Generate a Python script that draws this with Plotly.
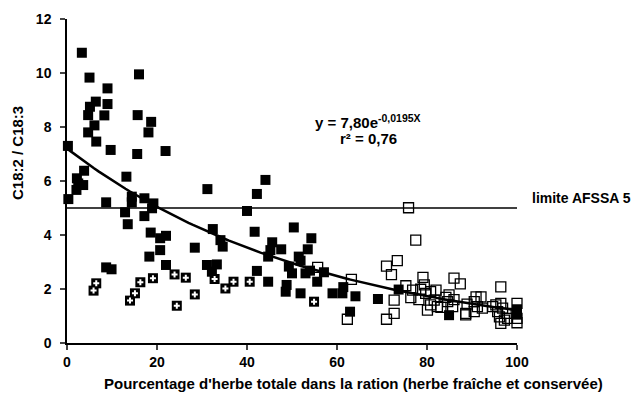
import numpy as np
import plotly.graph_objects as go

# Filled black squares
filled_x = [3.3, 5.0, 16.0, 9.0, 6.4, 9.0, 5.1, 4.7, 8.3, 15.7, 18.7, 6.1, 18.1, 4.7, 6.5, 0.2, 9.7, 15.6, 21.9,
            3.8, 13.2, 2.2, 2.5, 3.6, 2.1, 0.3, 8.7, 14.4, 14.4, 17.2, 19.2, 18.9, 12.9, 17.2, 13.5, 18.6, 20.7,
            22.0, 20.7, 18.3, 28.4, 22.0, 8.7, 9.9,
            31.2, 44.1, 42.2, 40.0, 32.4, 34.1, 34.6, 41.7, 50.4, 54.3, 45.6, 45.2, 47.6, 53.5, 44.7, 51.5, 51.9,
            31.1, 33.3, 32.2, 49.3, 50.0, 53.0, 54.0, 57.1, 55.6, 42.2, 44.7, 48.8, 48.6, 51.9,
            59.0, 61.2, 61.4, 64.1, 69.1, 73.7, 62.9, 84.9, 100.0, 100.0]
filled_y = [10.75, 9.83, 9.95, 9.43, 8.94, 8.85, 8.75, 8.44, 8.43, 8.44, 8.19, 8.06, 7.80, 7.80, 7.46, 7.30, 7.15, 7.0, 7.11,
            6.38, 6.16, 6.10, 5.91, 5.85, 5.67, 5.33, 5.21, 5.42, 5.21, 5.36, 5.17, 4.99, 4.84, 4.70, 4.40, 4.09, 3.88,
            3.97, 3.44, 3.20, 3.53, 2.89, 2.80, 2.73,
            5.70, 6.04, 5.52, 4.89, 4.22, 3.81, 3.57, 4.12, 4.28, 3.88, 3.73, 3.44, 3.47, 3.47, 3.20, 3.20, 3.05,
            2.89, 2.91, 2.64, 2.83, 2.58, 2.58, 2.68, 2.62, 2.27, 2.67, 2.27, 2.15, 1.90, 1.84,
            1.84, 1.84, 2.07, 1.73, 1.63, 1.98, 1.16, 1.03, 1.25, 1.05]

# Black squares with white cross
cross_x = [6.5, 5.9, 16.3, 19.1, 23.9, 26.4, 15.1, 14.0, 28.4, 24.4, 32.8, 37.0, 35.2, 40.6, 54.9]
cross_y = [2.21, 1.94, 2.25, 2.40, 2.54, 2.42, 1.84, 1.57, 1.80, 1.38, 2.37, 2.27, 2.02, 2.27, 1.53]

# Open squares
open_x = [55.7, 75.9, 77.5, 73.4, 71.0, 72.1, 63.2, 79.1, 86.0, 87.4, 96.4, 75.3, 76.8, 78.6, 79.4, 79.7, 80.8,
          82.0, 81.6, 84.9, 84.6, 85.7, 80.1, 80.8, 82.3, 88.6, 90.9, 90.5, 92.0, 91.2, 90.5, 92.3, 94.6, 95.3,
          96.4, 96.8, 95.7, 96.1, 97.6, 97.9, 97.2, 100.0, 100.0, 100.0, 72.7, 76.4, 78.2, 84.2, 86.0, 88.9,
          83.1, 88.6, 72.7, 71.0, 62.3, 96.4]
open_y = [2.80, 5.01, 3.81, 3.05, 2.85, 2.53, 2.36, 2.43, 2.40, 2.19, 2.08, 2.12, 1.96, 1.99, 2.15, 1.84, 1.90,
          1.96, 1.59, 1.78, 1.53, 1.35, 1.22, 1.41, 1.35, 1.10, 1.71, 1.53, 1.71, 1.35, 1.16, 1.29, 1.35, 1.41,
          1.47, 1.29, 1.16, 0.97, 1.10, 0.91, 0.85, 1.47, 0.91, 0.75, 1.59, 1.68, 1.61, 1.69, 1.61, 1.44,
          1.32, 1.04, 1.10, 0.88, 0.88, 0.73]

# Trend curve parameters (as drawn) and AFSSA limit
trend_a = 7.2
trend_b = 0.0178
limit_value = 5
x_ticks = [0, 20, 40, 60, 80, 100]
y_ticks = [0, 2, 4, 6, 8, 10, 12]

FONT = "Liberation Sans, Arial, sans-serif"

fig = go.Figure()
fig.add_trace(go.Scatter(x=filled_x, y=filled_y, mode="markers", cliponaxis=False,
                         marker=dict(symbol="square", size=10, color="black", line=dict(width=0))))
fig.add_trace(go.Scatter(x=open_x, y=open_y, mode="markers", cliponaxis=False,
                         marker=dict(symbol="square-open", size=10, color="black", line=dict(width=1.3))))
fig.add_trace(go.Scatter(x=cross_x, y=cross_y, mode="markers", cliponaxis=False,
                         marker=dict(symbol="square", size=10, color="black", line=dict(width=0))))
fig.add_trace(go.Scatter(x=cross_x, y=cross_y, mode="markers", cliponaxis=False,
                         marker=dict(symbol="cross", size=5, color="white", line=dict(width=0))))

tx = np.linspace(0, 100, 101)
fig.add_trace(go.Scatter(x=tx, y=trend_a * np.exp(-trend_b * tx), mode="lines", cliponaxis=False,
                         line=dict(color="black", width=2.5)))
fig.add_trace(go.Scatter(x=[0, 100], y=[limit_value, limit_value], mode="lines", cliponaxis=False,
                         line=dict(color="black", width=1.5)))

OFF = 8  # page body margin
W, H = 641, 400
L, T = 67 - OFF, 19 - OFF
pw, ph = 450, 324
R = W - L - pw
B = H - T - ph

def px(xp):
    return (xp - OFF - L) / pw

def py(yp):
    return (T + ph - (yp - OFF)) / ph

fig.update_layout(
    width=W, height=H, showlegend=False,
    paper_bgcolor="white", plot_bgcolor="white",
    margin=dict(l=L, r=R, t=T, b=B, autoexpand=False),
    font=dict(family=FONT, size=14, color="black"),
    xaxis=dict(range=[0, 100], tickvals=x_ticks, ticks="outside", ticklen=5, tickwidth=1.5,
               showline=True, linecolor="black", linewidth=1.5, showgrid=False, zeroline=False,
               tickfont=dict(family=FONT, size=14, color="black", weight="bold")),
    yaxis=dict(range=[0, 12], tickvals=y_ticks, ticks="outside", ticklen=5, tickwidth=1.5,
               showline=True, linecolor="black", linewidth=1.5, showgrid=False, zeroline=False,
               ticklabelstandoff=6,
               tickfont=dict(family=FONT, size=14, color="black", weight="bold")),
    annotations=[
        dict(text="C18:2 / C18:3", textangle=-90, xref="paper", yref="paper", x=px(18), y=py(153),
             showarrow=False, xanchor="center", yanchor="middle",
             font=dict(family=FONT, size=15, weight="bold")),
        dict(text="Pourcentage d'herbe totale dans la ration (herbe fraîche et conservée)",
             xref="paper", yref="paper", x=px(353), y=py(383), showarrow=False,
             xanchor="center", yanchor="middle", font=dict(family=FONT, size=15, weight="bold")),
        dict(text="limite AFSSA 5", xref="paper", yref="paper", x=px(530), y=py(198), showarrow=False,
             xanchor="left", yanchor="middle", font=dict(family=FONT, size=14, weight="bold")),
        dict(text="y = 7,80e<sup>-0,0195X</sup>", xref="paper", yref="paper", x=px(368), y=py(122),
             showarrow=False, xanchor="center", yanchor="middle", font=dict(family=FONT, size=15, weight="bold")),
        dict(text="r² = 0,76", xref="paper", yref="paper", x=px(368), y=py(138), showarrow=False,
             xanchor="center", yanchor="middle", font=dict(family=FONT, size=15, weight="bold")),
    ],
)

fig.write_html("out.html")
